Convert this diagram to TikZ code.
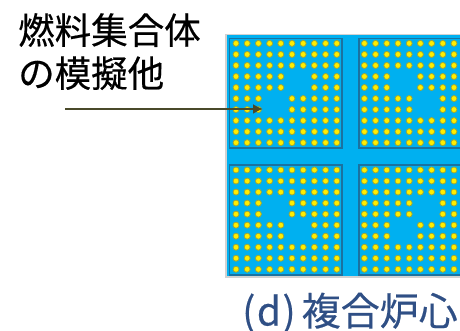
\documentclass[tikz,border=0pt]{standalone}
\usepackage{fontspec}
\setmainfont{Noto Sans CJK JP}[FakeBold=0.4]
\definecolor{corebg}{HTML}{00B0F0}
\definecolor{boxedge}{HTML}{1A72A0}
\definecolor{pinedge}{HTML}{9AA63A}
\definecolor{pinfill}{HTML}{FFEE00}
\definecolor{framegrey}{HTML}{D2D2D2}
\definecolor{arrowcol}{HTML}{4A4A2A}
\definecolor{capcol}{HTML}{2F4F85}
\usetikzlibrary{arrows.meta}
\tikzset{
  x=1pt,y=-1pt,
  label text/.style={inner sep=0pt,font=\fontsize{36.5pt}{36.5pt}\selectfont,anchor=base west,text=black},
  caption text/.style={inner sep=0pt,font=\fontsize{39pt}{39pt}\selectfont,anchor=base west,text=capcol},
  pin/.style={fill=pinfill,draw=pinedge,line width=0.8pt},
  asmbox/.style={draw=boxedge,line width=1.2pt},
  pointer/.style={draw=arrowcol,line width=2pt,-{Latex[length=10pt,width=10pt]}}
}
\newcommand{\asmpins}[4]{%
  \foreach \r in {0,...,9}{%
    \foreach \c in {0,...,9}{%
      \pgfmathtruncatemacro{\skip}{((\r==3||\r==4)&&(\c==#3||\c==#3+1))||((\r==5||\r==6)&&(\c==#4||\c==#4+1))?1:0}%
      \ifnum\skip=0
        \filldraw[pin] ({#1+11.2*\c},{#2+11.03*\r}) circle [radius=3pt];
      \fi
    }%
  }%
}
\begin{document}
\begin{tikzpicture}
\useasboundingbox (0,0) rectangle (460,331);
\fill[white] (0,0) rectangle (460,331);
\fill[corebg] (226,35) rectangle (460,276.5);
\draw[framegrey,line width=1.8pt] (460,34.5) -- (225.7,34.5) -- (225.7,277) -- (460,277);
\begin{scope}
\clip (226,35) rectangle (460,276.5);
\draw[asmbox] (229.5,38.5) rectangle (342,148);
\draw[asmbox] (359,38.5) rectangle (471,148);
\draw[asmbox] (229.5,165) rectangle (342,275);
\draw[asmbox] (359,165) rectangle (471,275);
\asmpins{236}{43.4}{5}{3}
\asmpins{364.4}{43.4}{3}{5}
\asmpins{236}{170}{3}{5}
\asmpins{364.4}{170}{5}{3}
\end{scope}
\node[label text] (l1) at (18,44) {燃料集合体};
\node[label text] (l2) at (18,87) {の模擬他};
\coordinate (as) at (65,109);
\coordinate (ae) at (263,109);
\draw[pointer] (as) -- (ae);
\node[caption text] (cap) at (242,325.5) {(\hspace{1.5pt}d\hspace{1.5pt})\hspace{6pt}複合炉心};
\end{tikzpicture}
\end{document}
